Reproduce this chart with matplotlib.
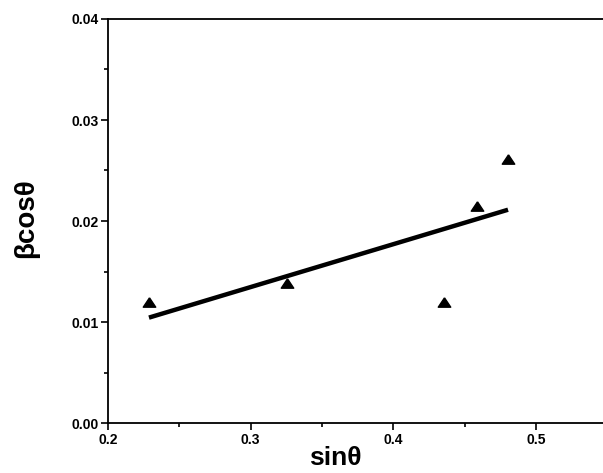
import matplotlib

matplotlib.use("Agg")
import matplotlib.pyplot as plt
import numpy as np
from matplotlib.ticker import MultipleLocator

plt.rcParams["font.family"] = ["Liberation Sans", "DejaVu Sans"]
plt.rcParams["font.weight"] = "bold"

# measured points (sin theta, beta cos theta)
sin_theta = [0.2287, 0.3254, 0.4355, 0.4586, 0.4803]
beta_cos = [0.0120, 0.0139, 0.0120, 0.0215, 0.0261]

x_ticks = [0.2, 0.3, 0.4, 0.5]
y_ticks = [0.00, 0.01, 0.02, 0.03, 0.04]

fig = plt.figure(figsize=(6.03, 4.73), dpi=100)
ax = fig.add_axes([108 / 603, 50 / 473, 499.5 / 603, 404 / 473])

# flattened triangle like the original marker
tri = [(0, 0.75), (-1, -0.75), (1, -0.75), (0, 0.75)]
ax.plot(sin_theta, beta_cos, linestyle="none", marker=tri, color="black", markersize=9)

slope, icpt = np.polyfit(sin_theta, beta_cos, 1)
xf = np.array([min(sin_theta), max(sin_theta)])
ax.plot(xf, slope * xf + icpt, color="black", linewidth=3.2, solid_capstyle="butt")

ax.set_xlim(0.2, 0.55)
ax.set_ylim(0.0, 0.04)
ax.set_xticks(x_ticks)
ax.set_xticklabels([f"{v:.1f}" for v in x_ticks])
ax.set_yticks(y_ticks)
ax.set_yticklabels([f"{v:.2f}" for v in y_ticks])
ax.xaxis.set_minor_locator(MultipleLocator(0.05))
ax.yaxis.set_minor_locator(MultipleLocator(0.005))
ax.tick_params(which="major", direction="out", length=5, width=1.2, labelsize=10, pad=2)
ax.tick_params(which="minor", direction="out", length=3, width=1.2)

for s in ["left", "bottom", "top"]:
    ax.spines[s].set_linewidth(1.3)
ax.spines["right"].set_visible(False)

ax.set_xlabel("sin\u03b8", fontsize=19, fontweight="bold")
ax.xaxis.set_label_coords(0.4545, -0.058)
ax.set_ylabel("\u03b2cos\u03b8", fontsize=20, fontweight="bold")
ax.yaxis.set_label_coords(-0.138, 0.507)

fig.savefig("out.png", dpi=100)
